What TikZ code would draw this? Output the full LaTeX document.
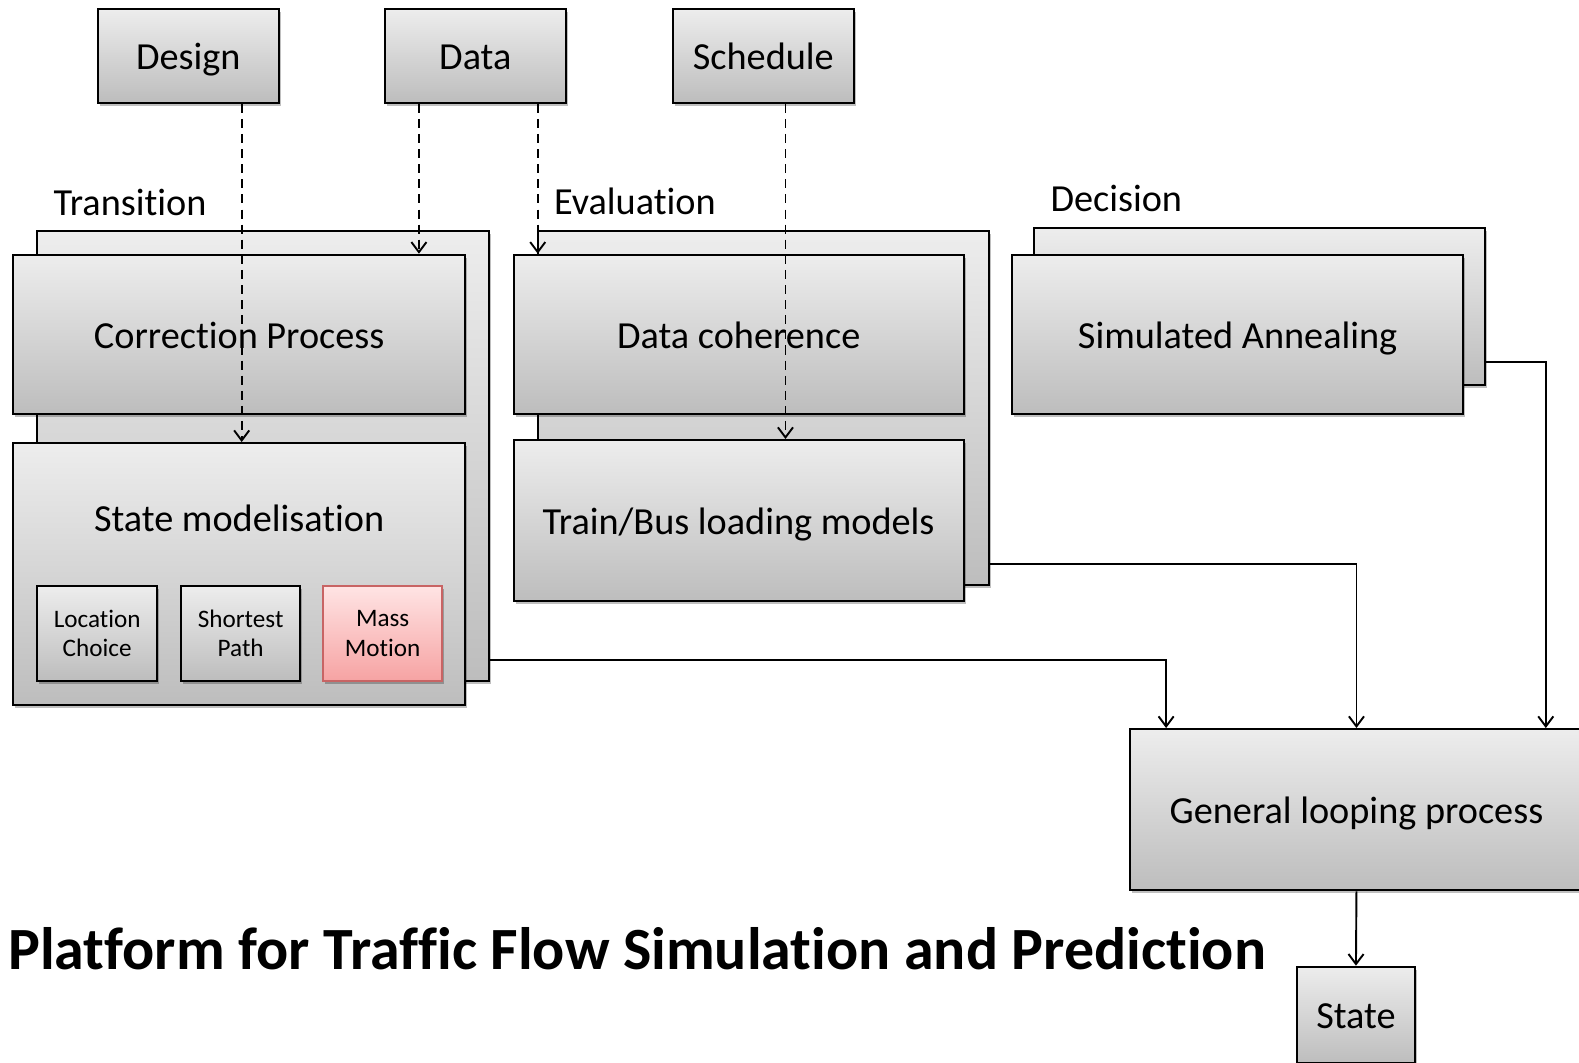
\documentclass[tikz,border=0pt]{standalone}
\usepackage{fontspec}
\setmainfont[Ligatures=NoCommon]{Carlito}
\usetikzlibrary{arrows.meta,shadows,calc}
\definecolor{ctop}{HTML}{EDEDED}
\definecolor{cbot}{HTML}{BDBDBD}
\definecolor{rtop}{HTML}{FFE4E4}
\definecolor{rbot}{HTML}{F6A3A3}
\definecolor{rline}{HTML}{C86464}
\tikzset{
  box/.style={draw=black, line width=2.1pt, top color=ctop, bottom color=cbot,
    inner sep=0pt, font=\fontsize{38}{42}\selectfont,
    text height=30pt, text depth=2.6pt,
    drop shadow={shadow xshift=2pt, shadow yshift=-3pt, opacity=0.25, fill=black}},
  subbox/.style={box, font=\fontsize{25}{29.5}\selectfont, align=center, text height=, text depth=},
  redbox/.style={subbox, draw=rline, top color=rtop, bottom color=rbot},
  lbl/.style={anchor=west, inner sep=0pt, font=\fontsize{38}{42}\selectfont},
  arr/.style={line width=1.9pt, -{Straight Barb[length=10pt,width=15pt]}},
  darr/.style={arr, dash pattern=on 9pt off 6pt}
}
\begin{document}
\begin{tikzpicture}[x=1pt,y=-1pt]
\useasboundingbox (0,0) rectangle (1568,1055);
\clip (0,0) rectangle (1568,1055);
\fill[white] (0,0) rectangle (1568,1055);

% top inputs
\node[box, minimum width=180pt, minimum height=93pt] (design) at (187,55.5) {Design};
\node[box, minimum width=180pt, minimum height=93pt] (data) at (472,55.5) {Data};
\node[box, minimum width=180pt, minimum height=93pt] (sched) at (758,55.5) {Schedule};

% group labels
\node[lbl] (ltrans) at (53,201) {Transition};
\node[lbl] (leval) at (550,200) {Evaluation};
\node[lbl] (ldec) at (1043,197) {Decision};

% Transition group
\node[box, minimum width=449pt, minimum height=447pt] (tb) at (261.5,452.5) {};
\node[box, minimum width=449pt, minimum height=158pt] (cp) at (237.5,332) {Correction Process};
\node[box, minimum width=449pt, minimum height=260pt] (sm) at (237.5,570) {};
\node[inner sep=0pt, font=\fontsize{38}{42}\selectfont, text height=30pt, text depth=2.6pt] (smtext) at (237.5,514.5) {State modelisation};
\node[subbox, minimum width=119pt, minimum height=94pt] (loc) at (96.5,629) {Location\\Choice};
\node[subbox, minimum width=118pt, minimum height=94pt] (sp) at (239,629) {Shortest\\Path};
\node[redbox, minimum width=118pt, minimum height=94pt] (mm) at (380,629) {Mass\\Motion};

% Evaluation group
\node[box, minimum width=448pt, minimum height=352pt] (eb) at (758,405) {};
\node[box, minimum width=447pt, minimum height=158pt] (dc) at (733.5,332) {Data coherence};
\node[box, minimum width=447pt, minimum height=160pt] (train) at (733.5,517) {Train/Bus loading models};

% Decision group
\node[box, minimum width=448pt, minimum height=156pt] (db) at (1251,304) {};
\node[box, minimum width=448pt, minimum height=158pt] (sa) at (1229,332) {Simulated Annealing};

% General looping and state
\node[box, minimum width=450pt, minimum height=160pt] (glp) at (1347,804) {General looping process};
\node[box, minimum width=117pt, minimum height=96pt] (st) at (1346.5,1008) {State};

% title
\node[anchor=west, inner sep=0pt, font=\bfseries\fontsize{59.5}{64}\selectfont] (title) at (8,942) {Platform for Traffic Flow Simulation and Prediction};

% dashed inputs
\coordinate (d1) at ([xshift=53pt]design.south);
\coordinate (d2) at ([xshift=-56pt]data.south);
\coordinate (d3) at ([xshift=62pt]data.south);
\coordinate (d4) at ([xshift=22pt]sched.south);
\draw[darr] (d1) -- (d1 |- sm.north);
\draw[darr] (d2) -- (d2 |- cp.north);
\draw[darr] (d3) -- (d3 |- dc.north);
\draw[darr] (d4) -- (d4 |- train.north);

% solid connectors
\draw[arr] ([yshift=22pt]tb.south east) -| ([xshift=-189pt]glp.north);
\draw[arr] ([yshift=22pt]eb.south east) -| (glp.north);
\draw[arr] ([yshift=24pt]db.south east) -| ([xshift=188pt]glp.north);
\draw[arr] (glp.south) -- (st.north);
\end{tikzpicture}
\end{document}
